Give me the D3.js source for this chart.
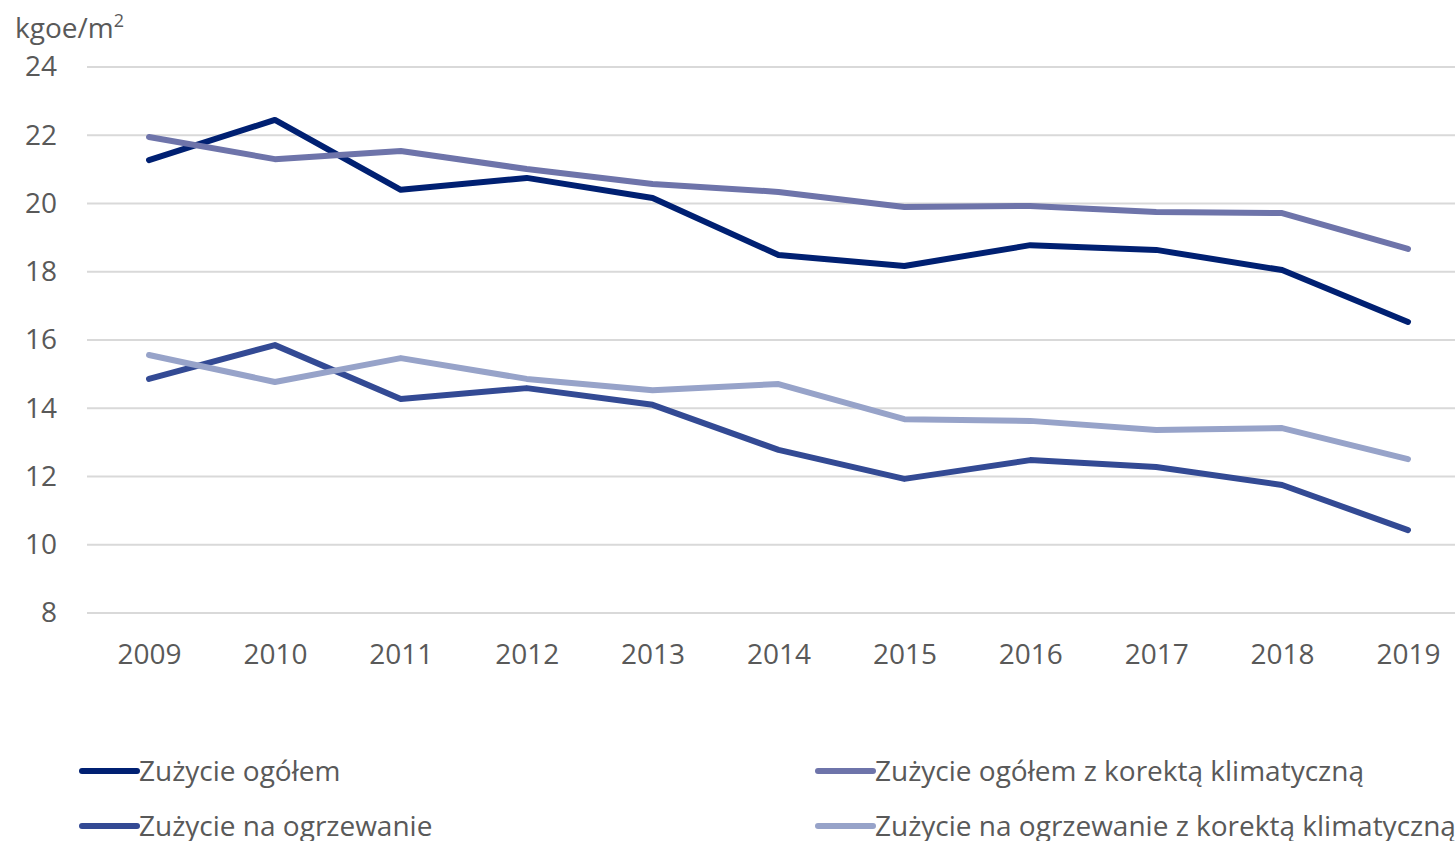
<!DOCTYPE html>
<html>
<head>
<meta charset="utf-8">
<script src="https://cdn.jsdelivr.net/npm/d3@7"></script>
<style>
  body { margin: 0; background: #fff; }
  svg { display: block; font-family: 'Open Sans', sans-serif; }
</style>
</head>
<body>
<svg id="chart" width="1455" height="841"></svg>
<script>
// data
const years = ['2009', '2010', '2011', '2012', '2013', '2014', '2015', '2016', '2017', '2018', '2019'];
const totalUse        = [21.27, 22.45, 20.40, 20.75, 20.16, 18.49, 18.17, 18.78, 18.64, 18.05, 16.53];
const totalUseClimate = [21.95, 21.30, 21.54, 21.01, 20.57, 20.34, 19.90, 19.93, 19.75, 19.72, 18.67];
const heatingUse      = [14.86, 15.85, 14.27, 14.59, 14.10, 12.78, 11.93, 12.48, 12.28, 11.75, 10.43];
const heatingClimate  = [15.56, 14.77, 15.47, 14.86, 14.53, 14.71, 13.68, 13.63, 13.36, 13.42, 12.51];
const yTicks = [8, 10, 12, 14, 16, 18, 20, 22, 24];

const series = [
  { name: 'Zużycie ogółem', values: totalUse, color: '#002072' },
  { name: 'Zużycie ogółem z korektą klimatyczną', values: totalUseClimate, color: '#6E74AA' },
  { name: 'Zużycie na ogrzewanie', values: heatingUse, color: '#334A94' },
  { name: 'Zużycie na ogrzewanie z korektą klimatyczną', values: heatingClimate, color: '#97A3C9' }
];

const svg = d3.select('#chart');
const textColor = '#595959';
const fontSize = '28px';

const x = d3.scalePoint().domain(years).range([149, 1408]);
const y = d3.scaleLinear().domain([8, 24]).range([613, 67]);

// gridlines
svg.append('g')
  .selectAll('line')
  .data(yTicks)
  .join('line')
    .attr('x1', 87)
    .attr('x2', 1455)
    .attr('y1', d => y(d))
    .attr('y2', d => y(d))
    .attr('stroke', '#d9d9d9')
    .attr('stroke-width', 2);

// y axis labels
const yAxis = svg.append('g')
  .attr('transform', 'translate(87,0)')
  .call(d3.axisLeft(y).tickValues(yTicks).tickSize(0).tickPadding(30));
yAxis.select('.domain').remove();
yAxis.selectAll('text')
  .attr('fill', textColor)
  .style('font-size', fontSize)
  .style('font-family', 'Open Sans, sans-serif');

// x axis labels
const xAxis = svg.append('g')
  .attr('transform', 'translate(0,613)')
  .call(d3.axisBottom(x).tickSize(0).tickPadding(31));
xAxis.select('.domain').remove();
xAxis.selectAll('text')
  .attr('fill', textColor)
  .style('font-size', fontSize)
  .style('font-family', 'Open Sans, sans-serif');

// unit label
const unit = svg.append('text')
  .attr('x', 15)
  .attr('y', 38)
  .attr('fill', textColor)
  .style('font-size', fontSize);
unit.append('tspan').text('kgoe/m');
unit.append('tspan').text('2').attr('dy', -11).style('font-size', '18px');

// lines
const line = d3.line()
  .x((d, i) => x(years[i]))
  .y(d => y(d));

svg.append('g')
  .selectAll('path')
  .data(series)
  .join('path')
    .attr('d', d => line(d.values))
    .attr('fill', 'none')
    .attr('stroke', d => d.color)
    .attr('stroke-width', 6)
    .attr('stroke-linejoin', 'round')
    .attr('stroke-linecap', 'round');

// legend
const legendPos = [
  { x: 82, y: 771 },
  { x: 818, y: 771 },
  { x: 82, y: 826 },
  { x: 818, y: 826 }
];
const legend = svg.append('g')
  .selectAll('g')
  .data(series)
  .join('g')
    .attr('transform', (d, i) => `translate(${legendPos[i].x},${legendPos[i].y})`);

legend.append('line')
  .attr('x1', 0)
  .attr('x2', 55)
  .attr('stroke', d => d.color)
  .attr('stroke-width', 6)
  .attr('stroke-linecap', 'round');

legend.append('text')
  .attr('x', 57)
  .attr('dy', '0.35em')
  .attr('fill', textColor)
  .style('font-size', fontSize)
  .text(d => d.name);
</script>
</body>
</html>
